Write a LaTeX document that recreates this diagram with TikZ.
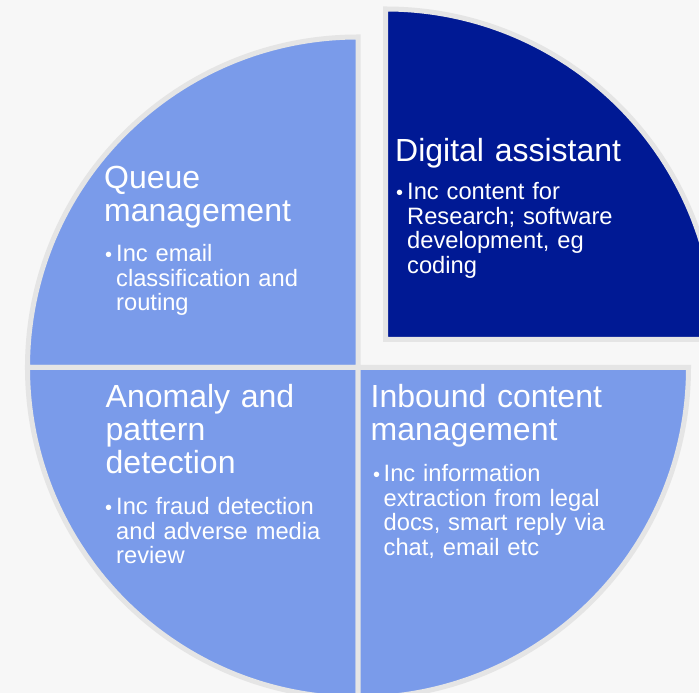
\documentclass[tikz,border=0pt]{standalone}
\usepackage{fontspec}
\setmainfont{Liberation Sans}
\definecolor{bgc}{RGB}{247,247,247}
\definecolor{edgec}{RGB}{229,229,229}
\definecolor{lightb}{RGB}{122,155,234}
\definecolor{darkb}{RGB}{0,25,148}
\begin{document}
\begin{tikzpicture}[x=1pt,y=1pt,
  wedge/.style={draw=edgec, line width=5pt, line join=miter},
  ttl/.style={anchor=base west, inner sep=0pt, text=white, text width=320pt, align=left, font=\fontsize{32}{33}\selectfont},
  bul/.style={anchor=base west, inner sep=0pt, text=white, font=\fontsize{20}{24}\selectfont},
  btxt/.style={anchor=base west, inner sep=0pt, text=white, text width=320pt, align=left, font=\fontsize{23.7}{24.5}\selectfont}]
\useasboundingbox (0,0) rectangle (699,693);
\clip (0,0) rectangle (699,693);
\fill[bgc] (0,0) rectangle (699,693);
\coordinate (C) at (358,325.5);
\coordinate (E) at (385.5,353.5);
% wedges
\draw[wedge, fill=lightb] (C) -- ++(-330.5,0) arc[start angle=180, end angle=90, radius=330.5pt] -- cycle;
\draw[wedge, fill=lightb] (C) -- ++(-330.5,0) arc[start angle=180, end angle=270, radius=330.5pt] -- cycle;
\draw[wedge, fill=lightb] (C) -- ++(0,-330.5) arc[start angle=270, end angle=360, radius=330.5pt] -- cycle;
\draw[wedge, fill=darkb] (E) -- ++(330.5,0) arc[start angle=0, end angle=90, radius=330.5pt] -- cycle;
% Queue management
\node[ttl] (qt) at (104,504.7) {Queue\\management};
\node[bul] (qb) at (105,431.3) {•};
\node[btxt] (qx) at (116,431.3) {Inc email\\classification and\\routing};
% Digital assistant
\node[ttl] (dt) at (395,531.3) {Digital assistant};
\node[bul] (db) at (396,493) {•};
\node[btxt] (dx) at (407,493) {Inc content for\\Research; software\\development, eg\\coding};
% Anomaly
\node[ttl] (at) at (105.5,285) {Anomaly and\\pattern\\detection};
\node[bul] (ab) at (105,178) {•};
\node[btxt] (ax) at (116,178) {Inc fraud detection\\and adverse media\\review};
% Inbound
\node[ttl] (it) at (370.5,285) {Inbound content\\management};
\node[bul] (ib) at (373,211.3) {•};
\node[btxt] (ix) at (383.5,211.3) {Inc information\\extraction from legal\\docs, smart reply via\\chat, email etc};
\end{tikzpicture}
\end{document}
